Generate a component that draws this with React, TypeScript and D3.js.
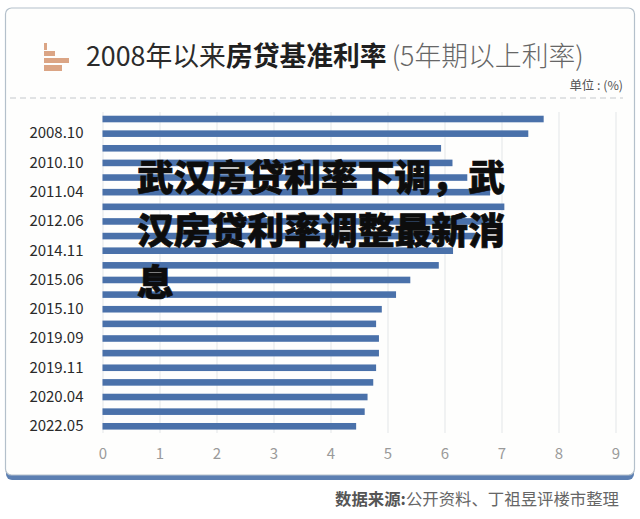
import React, { useEffect, useRef } from 'react'
import * as d3 from 'd3'

// blank entries are rows the picture leaves unlabelled
const categories = [
  '', '2008.10', '', '2010.10', '', '2011.04', '', '2012.06', '', '2014.11', '',
  '2015.06', '', '2015.10', '', '2019.09', '', '2019.11', '', '2020.04', '', '2022.05'
]
const rates = [
  7.74, 7.47, 5.94, 6.14, 6.4, 6.8, 7.05, 6.8, 6.55, 6.15, 5.9,
  5.4, 5.15, 4.9, 4.8, 4.85, 4.85, 4.8, 4.75, 4.65, 4.6, 4.45
]
const xTicks = [0, 1, 2, 3, 4, 5, 6, 7, 8, 9]
const overlayLines = ['武汉房贷利率下调，武', '汉房贷利率调整最新消', '息']

const FONT = '"Noto Sans CJK SC", "Noto Sans", sans-serif'
const BAR = '#4a71aa'

const App = () => {
  const ref = useRef<SVGSVGElement>(null)

  useEffect(() => {
    const svg = d3.select(ref.current)
    svg.selectAll('*').remove()

    // card
    svg.append('rect').attr('width', 640).attr('height', 519).attr('fill', '#fff')
    svg.append('rect')
      .attr('x', 6).attr('y', 12).attr('width', 628).attr('height', 468).attr('rx', 6)
      .attr('fill', BAR).attr('opacity', 0.9)
    svg.append('rect')
      .attr('x', 5.5).attr('y', 8).attr('width', 629).attr('height', 467).attr('rx', 6)
      .attr('fill', '#fefefd').attr('stroke', '#b4c0cb').attr('stroke-width', 1.2)

    // title icon
    const icon = [[3, 43, 7], [11, 51, 5], [25, 58, 5], [18, 65, 6]]
    svg.append('g').selectAll('rect').data(icon).join('rect')
      .attr('x', 44)
      .attr('y', d => d[1])
      .attr('width', d => d[0])
      .attr('height', d => d[2])
      .attr('fill', '#dba585')

    const title = svg.append('text')
      .attr('x', 86).attr('y', 66)
      .attr('font-family', FONT).attr('font-size', 26.8)
    title.append('tspan').attr('fill', '#2b2b2b').text('2008年以来')
    title.append('tspan').attr('fill', '#1f1f1f').attr('font-weight', 700).text('房贷基准利率')
    title.append('tspan').attr('fill', '#666').attr('font-weight', 300).attr('dx', 5).text('(5年期以上利率)')

    svg.append('text')
      .attr('x', 623).attr('y', 90).attr('text-anchor', 'end')
      .attr('font-family', FONT).attr('font-size', 12.4).attr('fill', '#555')
      .text('单位 : (%)')

    svg.append('line')
      .attr('x1', 10).attr('x2', 623).attr('y1', 98).attr('y2', 98)
      .attr('stroke', '#c4c8cc').attr('stroke-dasharray', '6 4')

    // scales
    const xScale = d3.scaleLinear().domain([0, 9]).range([102.5, 615.5])
    const yScale = d3.scaleBand<number>()
      .domain(d3.range(categories.length))
      .range([111.7, 433.6])
      .paddingInner(0.55)
      .paddingOuter(0.275)

    // x axis with gridlines
    const xAxis = svg.append('g')
      .attr('transform', 'translate(0,433)')
      .call(d3.axisBottom(xScale).tickValues(xTicks).tickFormat(d3.format('d')).tickSize(-321).tickPadding(15))
    xAxis.select('.domain').remove()
    xAxis.selectAll('line').attr('stroke', '#e3e6e8')
    xAxis.selectAll('text')
      .attr('font-family', FONT).attr('font-size', 15).attr('fill', '#9a9a9a')

    // bars
    svg.append('g').selectAll('rect').data(rates).join('rect')
      .attr('x', xScale(0))
      .attr('y', (_, i) => yScale(i) as number)
      .attr('width', d => xScale(d) - xScale(0))
      .attr('height', yScale.bandwidth())
      .attr('fill', BAR)

    // y axis, every other row has a label
    const yAxis = svg.append('g')
      .attr('transform', 'translate(102.5,0)')
      .call(
        d3.axisLeft(yScale)
          .tickValues(d3.range(categories.length).filter(i => categories[i] !== ''))
          .tickFormat(i => categories[i])
          .tickSize(0)
          .tickPadding(19)
      )
    yAxis.select('.domain').remove()
    yAxis.selectAll('text')
      .attr('font-family', FONT).attr('font-size', 15).attr('fill', '#2a2a2a')

    // source note
    const source = svg.append('text')
      .attr('x', 619).attr('y', 505).attr('text-anchor', 'end')
      .attr('font-family', FONT).attr('font-size', 16.4).attr('fill', '#666')
    source.append('tspan').attr('font-weight', 700).attr('fill', '#555').text('数据来源:')
    source.append('tspan').text('公开资料、丁祖昱评楼市整理')

    // headline pasted over the chart
    svg.append('g').selectAll('text').data(overlayLines).join('text')
      .attr('x', 137)
      .attr('y', (_, i) => 191 + i * 52.5)
      .attr('font-family', FONT)
      .attr('font-size', 36.8)
      .attr('font-weight', 900)
      .attr('fill', '#0d0d0d')
      .attr('stroke', '#0d0d0d')
      .attr('stroke-width', 0.7)
      .text(d => d)
  }, [])

  return (
    <svg
      ref={ref}
      width={640}
      height={519}
      style={{ position: 'absolute', left: 0, top: 0, display: 'block' }}
    />
  )
}

export default App
